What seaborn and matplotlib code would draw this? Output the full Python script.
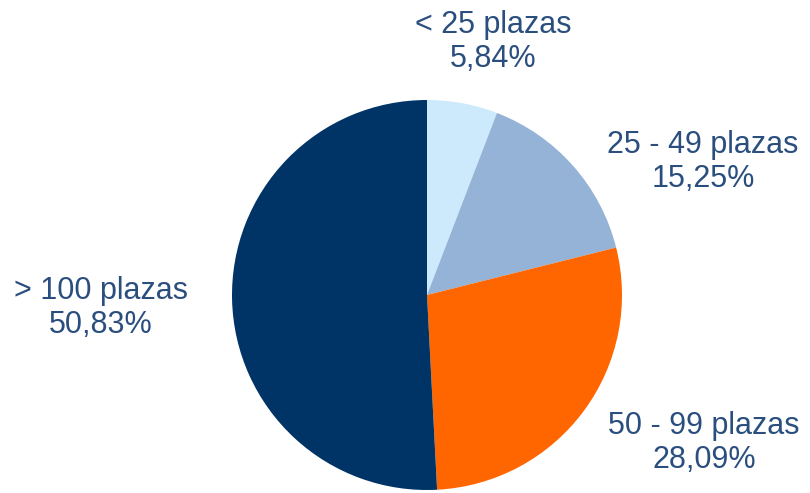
import matplotlib
matplotlib.use("Agg")
import matplotlib.pyplot as plt
import seaborn as sns

categories = ["< 25 plazas", "25 - 49 plazas", "50 - 99 plazas", "> 100 plazas"]
values = [5.84, 15.25, 28.09, 50.83]
value_labels = ["5,84%", "15,25%", "28,09%", "50,83%"]
colors = ["#cceafb", "#95b3d7", "#ff6600", "#003366"]

sns.set_theme(style="white")
plt.rcParams['font.family'] = ['Liberation Sans', 'DejaVu Sans']

W, H = 810, 493
fig = plt.figure(figsize=(W / 100, H / 100), dpi=100)
# pie circle: center (427, 295), radius 195 px
ax = fig.add_axes([232 / W, (H - 490) / H, 390 / W, 390 / H])
ax.pie(values, colors=colors, startangle=90, counterclock=False,
       wedgeprops=dict(linewidth=0))
ax.set_xlim(-1, 1)
ax.set_ylim(-1, 1)
ax.set_aspect("equal")
ax.axis("off")

# label centers in pixel coordinates (x, y from top)
label_pos = [(493, 42), (703, 162), (704, 443), (101, 308)]
text_color = "#2a4e7e"
for cat, vl, (px, py) in zip(categories, value_labels, label_pos):
    fig.text(px / W, 1 - py / H, f"{cat}\n{vl}", ha="center", va="center",
             fontsize=22, color=text_color, linespacing=1.2)

fig.savefig("out.png", dpi=100)
